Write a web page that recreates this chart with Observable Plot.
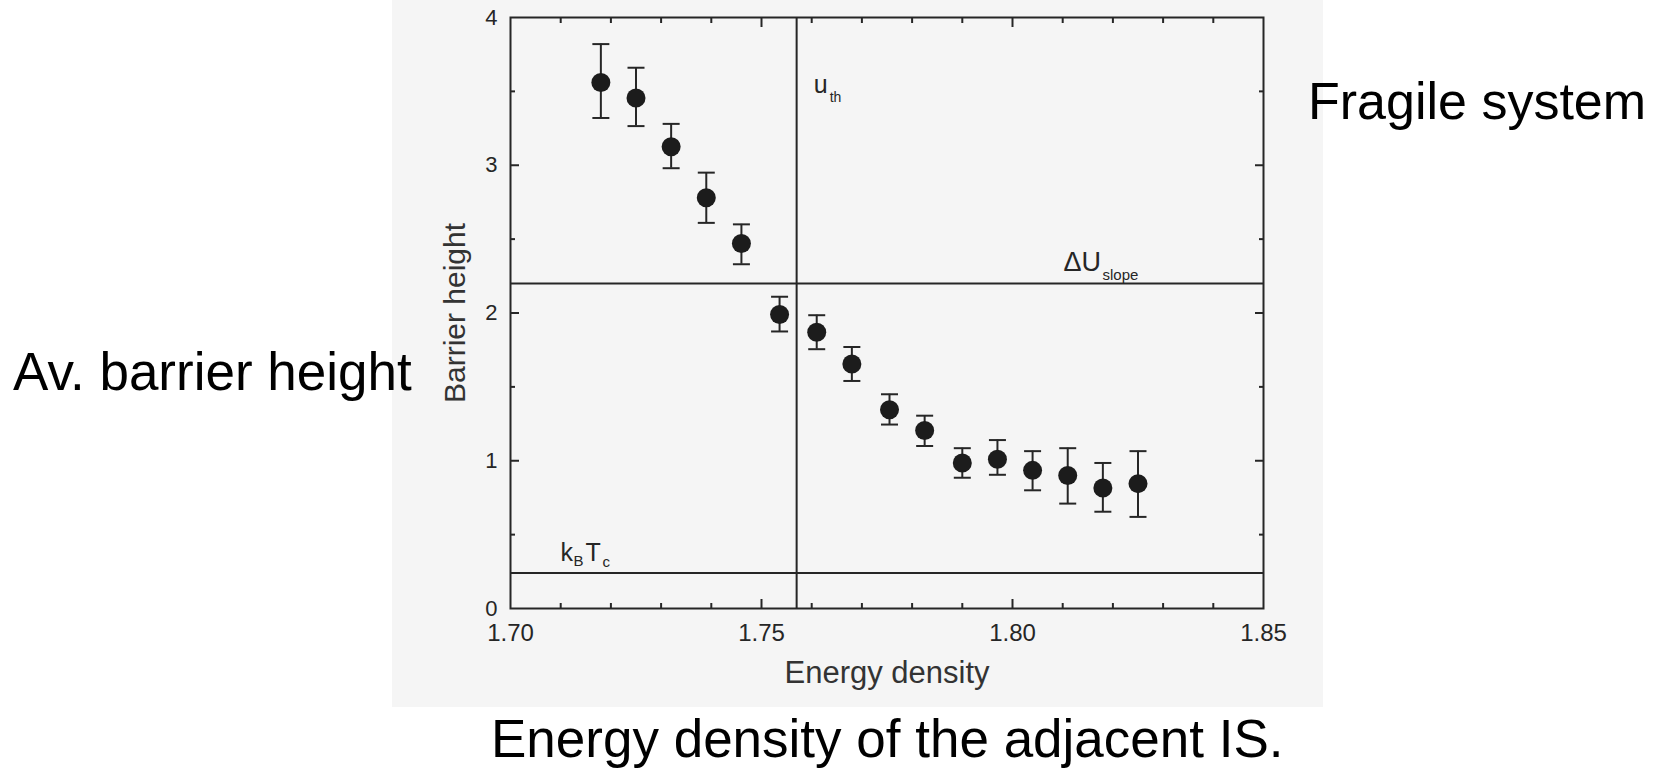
<!DOCTYPE html>
<html>
<head>
<meta charset="utf-8">
<script src="https://cdn.jsdelivr.net/npm/d3@7"></script>
<script src="https://cdn.jsdelivr.net/npm/@observablehq/plot@0.6"></script>
<style>
  body { margin: 0; background: #fff; }
  #wrap { position: relative; width: 1665px; height: 770px; overflow: hidden; background: #fff; }
  #scan { position: absolute; left: 392px; top: 0; width: 931px; height: 707px; background: #f5f5f5; }
  #chart { position: absolute; left: 0; top: 0; }
  .ann { position: absolute; font-family: "Liberation Sans", Arial, sans-serif; font-size: 53px; line-height: 53px; color: #000; white-space: nowrap; }
</style>
</head>
<body>
<div id="wrap">
  <div id="scan"></div>
  <div id="chart"></div>
  <div class="ann" style="left:13px; top:345px;">Av. barrier height</div>
  <div class="ann" style="left:1308px; top:75px; font-size:52px;">Fragile system</div>
  <div class="ann" style="left:491px; top:712px;">Energy density of the adjacent IS.</div>
</div>
<script>
// ---- data ----
const energy   = [1.718, 1.725, 1.732, 1.739, 1.746, 1.7536, 1.761, 1.768, 1.7755, 1.7825, 1.790, 1.797, 1.804, 1.811, 1.818, 1.825];
const barrier  = [3.56, 3.455, 3.125, 2.78, 2.47, 1.99, 1.87, 1.655, 1.345, 1.205, 0.985, 1.01, 0.935, 0.90, 0.815, 0.845];
const errHigh  = [3.82, 3.66, 3.28, 2.95, 2.60, 2.11, 1.985, 1.77, 1.45, 1.305, 1.085, 1.14, 1.065, 1.085, 0.985, 1.065];
const errLow   = [3.32, 3.265, 2.98, 2.61, 2.33, 1.875, 1.755, 1.54, 1.245, 1.10, 0.885, 0.905, 0.80, 0.71, 0.655, 0.62];

// reference lines
const uThreshold = [1.757];   // vertical line u_th
const slopeLevel = [2.2];     // horizontal line ΔU_slope
const kTcLevel   = [0.24];    // horizontal line k_B T_c

// ticks
const xLabelTicks = [1.70, 1.75, 1.80, 1.85];
const xMajorTicks = [1.75, 1.80];
const xMinorTicks = [1.71, 1.72, 1.73, 1.74, 1.76, 1.77, 1.78, 1.79, 1.81, 1.82, 1.83, 1.84];
const yLabelTicks = [0, 1, 2, 3, 4];
const yMajorTicks = [1, 2, 3];
const yMinorTicks = [0.5, 1.5, 2.5, 3.5];

const xLabel = "Energy density";
const yLabel = "Barrier height";

const points = energy.map((e, i) => ({e, b: barrier[i], hi: errHigh[i], lo: errLow[i]}));

const ink = "#262626";
const cap = {
  draw(context, size) {
    const r = Math.sqrt(size / Math.PI);
    context.moveTo(-r, 0);
    context.lineTo(r, 0);
  }
};
const blank = () => "";

const chart = Plot.plot({
  width: 1665,
  height: 770,
  marginLeft: 510,
  marginRight: 402,
  marginTop: 17,
  marginBottom: 162,
  style: {fontFamily: "'Liberation Sans', Arial, sans-serif", color: ink, background: "transparent", overflow: "visible"},
  x: {domain: [1.70, 1.85]},
  y: {domain: [0, 4]},
  marks: [
    // tick labels
    Plot.axisX({anchor: "bottom", ticks: xLabelTicks, tickSize: 0, tickPadding: 15, tickFormat: d3.format(".2f"), fontSize: 24, label: null}),
    Plot.axisY({anchor: "left", ticks: yLabelTicks, tickSize: 0, tickPadding: 13, tickFormat: d3.format("d"), fontSize: 22, label: null}),
    // inward ticks
    Plot.axisX({anchor: "bottom", ticks: xMinorTicks, tickSize: -5, tickFormat: blank, strokeWidth: 2, label: null}),
    Plot.axisX({anchor: "bottom", ticks: xMajorTicks, tickSize: -9, tickFormat: blank, strokeWidth: 2, label: null}),
    Plot.axisX({anchor: "top", ticks: xMinorTicks, tickSize: -5, tickFormat: blank, strokeWidth: 2, label: null}),
    Plot.axisX({anchor: "top", ticks: xMajorTicks, tickSize: -9, tickFormat: blank, strokeWidth: 2, label: null}),
    Plot.axisY({anchor: "left", ticks: yMinorTicks, tickSize: -5, tickFormat: blank, strokeWidth: 2, label: null}),
    Plot.axisY({anchor: "left", ticks: yMajorTicks, tickSize: -9, tickFormat: blank, strokeWidth: 2, label: null}),
    Plot.axisY({anchor: "right", ticks: yMinorTicks, tickSize: -5, tickFormat: blank, strokeWidth: 2, label: null}),
    Plot.axisY({anchor: "right", ticks: yMajorTicks, tickSize: -9, tickFormat: blank, strokeWidth: 2, label: null}),
    Plot.frame({stroke: ink, strokeWidth: 2}),
    // reference lines
    Plot.ruleX(uThreshold, {x: d => d, stroke: ink, strokeWidth: 2}),
    Plot.ruleY(slopeLevel, {y: d => d, stroke: ink, strokeWidth: 2}),
    Plot.ruleY(kTcLevel, {y: d => d, stroke: ink, strokeWidth: 2}),
    // reference line labels
    Plot.text(uThreshold, {x: d => d, frameAnchor: "top", text: () => "u", textAnchor: "start", lineAnchor: "bottom", dx: 17, dy: 75, fontSize: 25, fill: ink}),
    Plot.text(uThreshold, {x: d => d, frameAnchor: "top", text: () => "th", textAnchor: "start", lineAnchor: "bottom", dx: 33, dy: 84, fontSize: 14, fill: ink}),
    Plot.text(slopeLevel, {y: d => d, frameAnchor: "right", text: () => "ΔU", textAnchor: "start", lineAnchor: "bottom", dx: -200, dy: -12, fontSize: 27, fill: ink}),
    Plot.text(slopeLevel, {y: d => d, frameAnchor: "right", text: () => "slope", textAnchor: "start", lineAnchor: "bottom", dx: -161, dy: -3, fontSize: 15, fill: ink}),
    Plot.text(kTcLevel, {y: d => d, frameAnchor: "left", text: () => "k", textAnchor: "start", lineAnchor: "bottom", dx: 50, dy: -12, fontSize: 25, fill: ink}),
    Plot.text(kTcLevel, {y: d => d, frameAnchor: "left", text: () => "B", textAnchor: "start", lineAnchor: "bottom", dx: 63, dy: -7, fontSize: 15, fill: ink}),
    Plot.text(kTcLevel, {y: d => d, frameAnchor: "left", text: () => "T", textAnchor: "start", lineAnchor: "bottom", dx: 75, dy: -12, fontSize: 25, fill: ink}),
    Plot.text(kTcLevel, {y: d => d, frameAnchor: "left", text: () => "c", textAnchor: "start", lineAnchor: "bottom", dx: 92, dy: -6, fontSize: 15, fill: ink}),
    // axis titles
    Plot.text([xLabel], {frameAnchor: "bottom", textAnchor: "middle", lineAnchor: "bottom", dy: 74, fontSize: 31, fill: "#333"}),
    Plot.text([yLabel], {frameAnchor: "left", textAnchor: "middle", lineAnchor: "middle", rotate: -90, dx: -55, fontSize: 30, fill: "#333"}),
    // error bars and points
    Plot.ruleX(points, {x: "e", y1: "lo", y2: "hi", stroke: ink, strokeWidth: 2}),
    Plot.dot(points, {x: "e", y: "hi", symbol: cap, r: 8.5, stroke: ink, strokeWidth: 2, fill: "none"}),
    Plot.dot(points, {x: "e", y: "lo", symbol: cap, r: 8.5, stroke: ink, strokeWidth: 2, fill: "none"}),
    Plot.dot(points, {x: "e", y: "b", r: 9.5, fill: "#1c1c1c", stroke: "none"})
  ]
});
document.getElementById("chart").appendChild(chart);
</script>
</body>
</html>
